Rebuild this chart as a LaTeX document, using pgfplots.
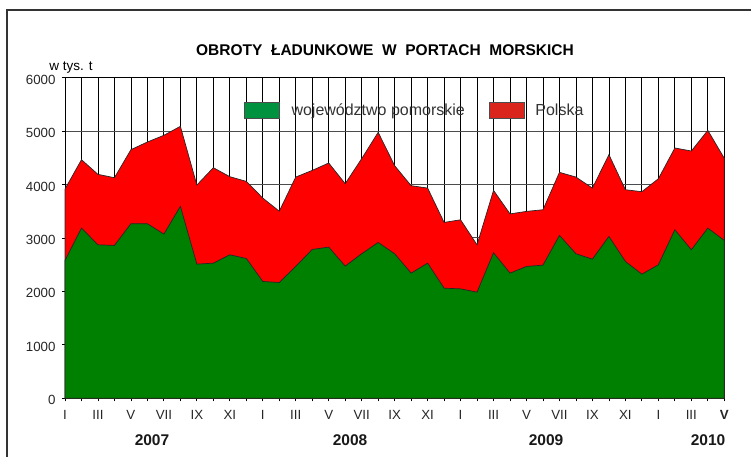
\documentclass[border=0pt]{standalone}
\usepackage{pgfplots}
\pgfplotsset{compat=1.18}
\usepackage{fontspec}
\setmainfont{Liberation Sans}
\definecolor{areagreen}{HTML}{008000}
\definecolor{areared}{HTML}{FF0000}
\definecolor{leggreen}{HTML}{00923F}
\definecolor{legred}{HTML}{DA251D}
\definecolor{framegray}{HTML}{333333}

\pgfplotstableread{
i polska pomorskie
0 3914 2578
1 4463 3183
2 4188 2871
3 4126 2859
4 4650 3265
5 4794 3265
6 4919 3071
7 5087 3589
8 3989 2509
9 4313 2528
10 4145 2684
11 4057 2615
12 3745 2185
13 3500 2166
14 4138 2466
15 4263 2784
16 4401 2828
17 4014 2472
18 4482 2703
19 4975 2915
20 4351 2703
21 3976 2341
22 3932 2528
23 3290 2060
24 3339 2047
25 2871 1985
26 3889 2722
27 3449 2341
28 3496 2466
29 3527 2491
30 4226 3046
31 4138 2703
32 3932 2603
33 4557 3027
34 3901 2559
35 3864 2322
36 4107 2497
37 4682 3152
38 4625 2778
39 5012 3183
40 4488 2952
}\datatable

\begin{document}
\begin{tikzpicture}
\path[use as bounding box] (0pt,0pt) rectangle (751pt,-457pt);
% outer frame
\draw[framegray, line width=1.6pt] (7pt,-457pt) -- (7pt,-10pt) -- (751pt,-10pt);
% title and unit
\node[font=\fontsize{15.5}{18}\selectfont\bfseries] at (385pt,-50pt) {OBROTY\ \ ŁADUNKOWE\ \ W\ \ PORTACH\ \ MORSKICH};
\node[font=\fontsize{13.5}{16}\selectfont] at (71pt,-68pt) {w tys. t};

\begin{axis}[
  at={(65pt,-398.3pt)}, anchor=south west,
  scale only axis, width=659.3pt, height=320.8pt,
  xmin=0, xmax=40, ymin=0, ymax=6000,
  xtick={0,...,40},
  xticklabels={I,,III,,V,,VII,,IX,,XI,,I,,III,,V,,VII,,IX,,XI,,I,,III,,V,,VII,,IX,,XI,,I,,III,,\textbf{V}},
  ytick={0,1000,...,6000},
  /pgf/number format/assume math mode=true,
  /pgf/number format/set thousands separator={},
  tick label style={font=\fontsize{13.3}{15}\selectfont, text=black!85},
  yticklabel style={yshift=-2pt, xshift=-3pt},
  xticklabel style={yshift=-6pt},
  tick pos=left, tick align=outside, major tick length=3pt,
  tick style={black, line width=0.8pt},
  xmajorgrids, ymajorgrids,
  x grid style={black, line width=0.8pt},
  y grid style={black!70, line width=0.9pt},
  axis line style={black, line width=1pt},
  clip=false,
  legend style={at={(axis cs:10.86,5390)}, anchor=west, draw=none, fill=none,
    inner sep=0pt, outer sep=0pt, font=\fontsize{16}{19}\selectfont,
    nodes={inner sep=0pt, text=black!80},
    /tikz/every even column/.append style={column sep=24pt}},
  legend columns=2,
  legend cell align=left,
]
\addplot[fill=areared, draw=black!85, line width=0.7pt, forget plot] table[x=i, y=polska] {\datatable} \closedcycle;
\addplot[fill=areagreen, draw=black!85, line width=0.7pt, forget plot] table[x=i, y=pomorskie] {\datatable} \closedcycle;
\addlegendimage{legend image code/.code={\draw[fill=leggreen, draw=black!70, line width=0.6pt] (0pt,-8pt) rectangle (35pt,8pt); \path (47pt,0pt);}}
\addlegendentry{województwo pomorskie}
\addlegendimage{legend image code/.code={\draw[fill=legred, draw=black!70, line width=0.6pt] (0pt,-8pt) rectangle (35pt,8pt); \path (46pt,0pt);}}
\addlegendentry{Polska}
\end{axis}
% year labels
\foreach \xx/\yy in {152/2007, 350/2008, 546/2009, 708/2010}
  \node[font=\fontsize{15.5}{18}\selectfont\bfseries, text=black!90] at (\xx pt,-440pt) {\yy};
\end{tikzpicture}
\end{document}
